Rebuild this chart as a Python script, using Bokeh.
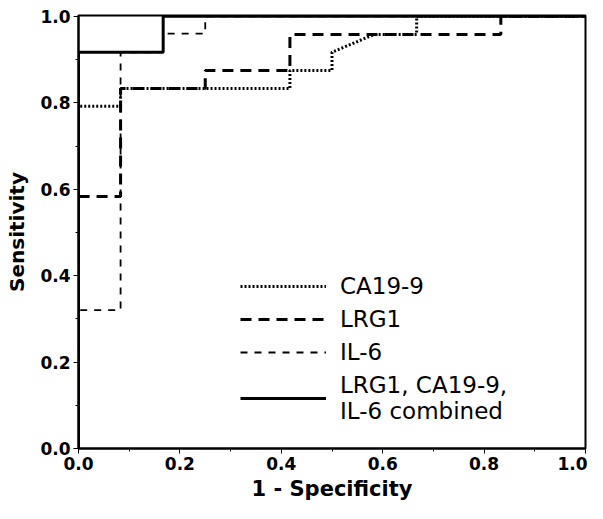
from bokeh.plotting import figure
from bokeh.models import Range1d, SingleIntervalTicker, Legend, LegendItem, PrintfTickFormatter
from bokeh.embed import file_html
from bokeh.resources import INLINE

# ROC data (1 - specificity, sensitivity)
ca199_fpr = [0, 0, 0.083, 0.083, 0.417, 0.417, 0.5, 0.5, 0.583, 0.667, 0.667, 1.0]
ca199_tpr = [0, 0.792, 0.792, 0.833, 0.833, 0.875, 0.875, 0.917, 0.958, 0.958, 1.0, 1.0]

lrg1_fpr = [0, 0, 0.083, 0.083, 0.25, 0.25, 0.417, 0.417, 0.833, 0.833, 1.0]
lrg1_tpr = [0, 0.583, 0.583, 0.833, 0.833, 0.875, 0.875, 0.958, 0.958, 1.0, 1.0]

il6_fpr = [0, 0, 0.083, 0.083, 0.167, 0.167, 0.25, 0.25, 1.0]
il6_tpr = [0, 0.32, 0.32, 0.917, 0.917, 0.96, 0.96, 1.0, 1.0]

comb_fpr = [0, 0, 0.167, 0.167, 1.0]
comb_tpr = [0, 0.917, 0.917, 1.0, 1.0]

labels = ["CA19-9", "LRG1", "IL-6", "LRG1, CA19-9,\nIL-6 combined"]
tick_interval = 0.2

p = figure(width=587, height=503, output_backend="svg", toolbar_location=None,
           x_range=Range1d(0, 1.0), y_range=Range1d(0, 1.002),
           min_border_left=78, min_border_right=2, min_border_top=15, min_border_bottom=40)
p.background_fill_color = "white"
p.border_fill_color = "white"
p.grid.visible = False
p.outline_line_color = "black"
p.outline_line_width = 2

r_il6 = p.line(il6_fpr, il6_tpr, line_color="black", line_width=1.8, line_dash="7 7")
r_lrg1 = p.line(lrg1_fpr, lrg1_tpr, line_color="black", line_width=3, line_dash="11 7")
r_ca = p.line(ca199_fpr, ca199_tpr, line_color="black", line_width=3, line_dash="2 2")
r_comb = p.line(comb_fpr, comb_tpr, line_color="black", line_width=3)

for ax in (p.xaxis[0], p.yaxis[0]):
    ax.ticker = SingleIntervalTicker(interval=tick_interval, num_minor_ticks=2)
    ax.formatter = PrintfTickFormatter(format="%.1f")
    ax.axis_line_width = 2
    ax.axis_line_color = "black"
    ax.major_tick_out = 5
    ax.major_tick_in = 0
    ax.minor_tick_out = 3
    ax.minor_tick_in = 0
    ax.major_label_text_font = "DejaVu Sans"
    ax.major_label_text_font_style = "bold"
    ax.major_label_text_font_size = "17px"
    ax.major_label_text_color = "black"
    ax.axis_label_text_font = "DejaVu Sans"
    ax.axis_label_text_font_style = "bold"
    ax.axis_label_text_color = "black"

p.xaxis[0].axis_label = "1 - Specificity"
p.yaxis[0].axis_label = "Sensitivity"
p.xaxis[0].axis_label_text_font_size = "21px"
p.yaxis[0].axis_label_text_font_size = "20px"
p.xaxis[0].major_label_standoff = 3
p.yaxis[0].major_label_standoff = 3
p.xaxis[0].axis_label_standoff = 4
p.yaxis[0].axis_label_standoff = 8

legend = Legend(items=[LegendItem(label=labels[0], renderers=[r_ca]),
                       LegendItem(label=labels[1], renderers=[r_lrg1]),
                       LegendItem(label=labels[2], renderers=[r_il6]),
                       LegendItem(label=labels[3], renderers=[r_comb])],
                location=(162, 24))
legend.background_fill_alpha = 0
legend.border_line_alpha = 0
legend.label_text_font = "DejaVu Sans"
legend.label_text_font_size = "23px"
legend.label_text_color = "black"
legend.glyph_width = 86
legend.glyph_height = 24
legend.label_height = 24
legend.label_standoff = 14
legend.spacing = 7
legend.padding = 0
legend.margin = 0
p.add_layout(legend)

open("out.html", "w").write(file_html(p, INLINE))
